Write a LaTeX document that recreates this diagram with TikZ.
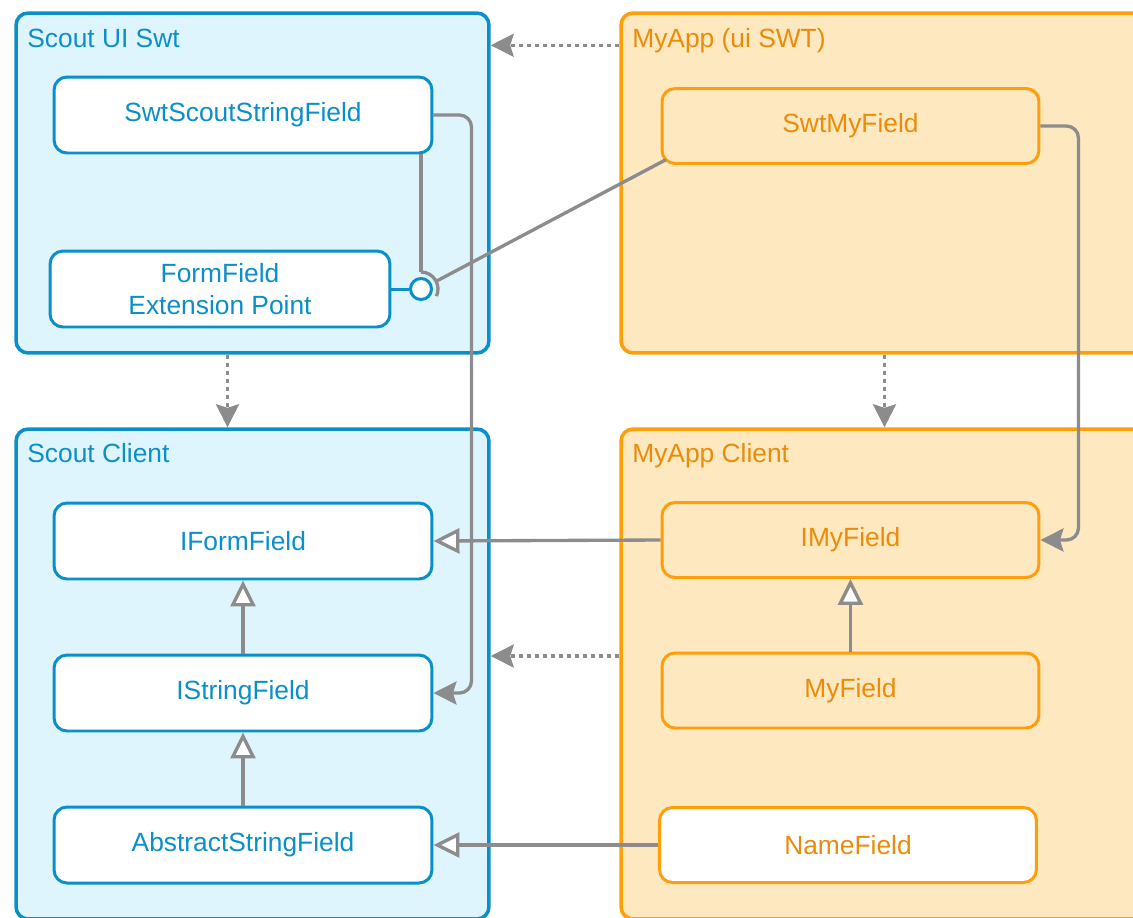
\documentclass[tikz,border=0pt]{standalone}
\usepackage{fontspec}
\setmainfont{Liberation Sans}
\usepackage{xcolor}
\usetikzlibrary{positioning,calc,arrows.meta}
\definecolor{sblue}{HTML}{0A8FC8}
\definecolor{sfill}{HTML}{DFF5FE}
\definecolor{morange}{HTML}{FF9E0B}
\definecolor{mfill}{HTML}{FDE8C0}
\definecolor{mtext}{HTML}{EA8C08}
\definecolor{lgray}{HTML}{8C8C8C}

\begin{document}
\begin{tikzpicture}[x=0.02cm, y=-0.02cm, font=\fontsize{15}{18}\selectfont,
		spkg/.style={draw=sblue, fill=sfill, line width=2pt, rounded corners=0.24cm},
		mpkg/.style={draw=morange, fill=mfill, line width=2pt, rounded corners=0.24cm},
		sbox/.style={draw=sblue, fill=white, text=sblue, line width=1.7pt, rounded corners=0.26cm, minimum width=7.56cm, minimum height=1.52cm, align=center},
		mbox/.style={draw=morange, fill=mfill, text=mtext, line width=1.7pt, rounded corners=0.26cm, minimum width=7.54cm, minimum height=1.5cm},
		dep/.style={lgray, line width=1.9pt, dash pattern=on 0.08cm off 0.08cm, -{Stealth[length=0.46cm, width=0.46cm, inset=0.07cm]}},
		use/.style={lgray, line width=1.9pt, rounded corners=0.24cm, -{Stealth[length=0.46cm, width=0.46cm, inset=0.07cm]}},
		inh/.style={lgray, line width=1.9pt, -{Triangle[open, length=0.52cm, width=0.5cm, fill=white]}},
		ttl/.style={anchor=base west, inner sep=0pt}]
	\useasboundingbox (0,0) rectangle (1133,917);

	% packages
	\node[name=sui, spkg, minimum width=9.46cm, minimum height=6.8cm] at (252.5,183) {};
	\node[name=mui, mpkg, minimum width=10.78cm, minimum height=6.8cm] at (890.5,183) {};
	\node[name=scl, spkg, minimum width=9.46cm, minimum height=9.8cm] at (252.5,674) {};
	\node[name=mcl, mpkg, minimum width=10.78cm, minimum height=9.8cm] at (890.5,674) {};
	\node[ttl, text=sblue] at (27,47) {Scout UI Swt};
	\node[ttl, text=mtext] at (632,47) {MyApp (ui SWT)};
	\node[ttl, text=sblue] at (27,462) {Scout Client};
	\node[ttl, text=mtext] at (632,462) {MyApp Client};

	% classes
	\node[name=sssf, sbox] at (243,115) {SwtScoutStringField};
	\node[name=ffep, sbox, minimum width=6.8cm] at (220,289) {FormField\\Extension Point};
	\node[name=ep, circle, draw=sblue, fill=white, line width=1.7pt, minimum size=0.42cm, inner sep=0pt] at (421,289) {};
	\node[name=smf, mbox] at (850.5,126) {SwtMyField};
	\node[name=iff, sbox] at (243,541) {IFormField};
	\node[name=isf, sbox] at (243,693) {IStringField};
	\node[name=asf, sbox] at (243,845) {AbstractStringField};
	\node[name=imf, mbox] at (850.5,540) {IMyField};
	\node[name=myf, mbox] at (850.5,690.5) {MyField};
	\node[name=nmf, mbox, fill=white] at (848,845) {NameField};

	% extension point
	\draw[sblue, line width=1.7pt] (ffep.east) -- (ep.west);
	\draw[lgray, line width=1.9pt] ([yshift=0.34cm]ep.center) arc[start angle=90, end angle=-25, radius=0.34cm];
	\draw[lgray, line width=1.9pt] (sssf.south -| ep) -- ([yshift=0.34cm]ep.center);
	\draw[lgray, line width=1.9pt] ([shift={(27:0.36cm)}]ep.center) -- ([shift={(3pt,3pt)}]smf.south west);

	% dependencies
	\draw[dep] ($(mui.north west)+(0,34)$) -- ($(sui.north east)+(0,34)$);
	\draw[dep] ($(sui.south)+(-25,0)$) -- ($(scl.north)+(-25,0)$);
	\draw[dep] ($(mui.south)+(-6,0)$) -- ($(mcl.north)+(-6,0)$);
	\draw[dep] ($(mcl.west)+(0,-18)$) -- ($(scl.east)+(0,-18)$);

	% usage
	\draw[use] (sssf.east) -- ++(38,0) |- (isf.east);
	\draw[use] (smf.east) -- ++(38,0) |- (imf.east);

	% inheritance
	\draw[inh] (imf.west) -- (iff.east);
	\draw[inh] (myf.north) -- (imf.south);
	\draw[inh] (isf.north) -- (iff.south);
	\draw[inh] (asf.north) -- (isf.south);
	\draw[inh] (nmf.west) -- (asf.east);
\end{tikzpicture}
\end{document}
